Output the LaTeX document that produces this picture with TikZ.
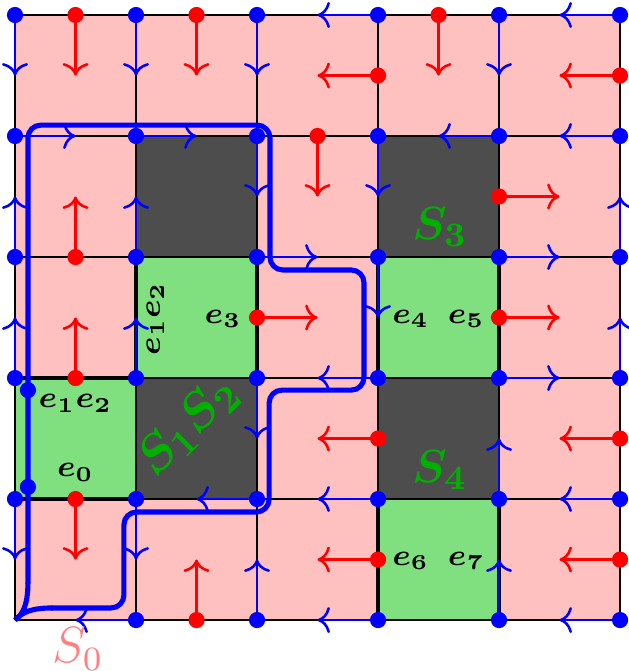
\documentclass[tikz,border=0pt]{standalone}
\usepackage{amsmath,amssymb,bm}
\usetikzlibrary{arrows.meta,calc}
\definecolor{cellpink}{HTML}{FFC0C0}
\definecolor{cellgreen}{HTML}{80E080}
\definecolor{cellgrey}{HTML}{4D4D4D}
\definecolor{labgreen}{HTML}{00B000}
\definecolor{labpink}{HTML}{FF8080}
\tikzset{
  pinkcell/.style={fill=cellpink},
  greencell/.style={fill=cellgreen},
  darkcell/.style={fill=cellgrey},
  gridline/.style={draw=black, line width=0.3pt},
  cut/.style={draw=black, line width=0.9pt},
  bdot/.style={circle, fill=blue, inner sep=0pt, minimum size=3.8pt},
  rdot/.style={circle, fill=red, inner sep=0pt, minimum size=3.8pt},
  barrow/.style={->, draw=blue, line width=0.6pt},
  rarrow/.style={->, draw=red, line width=0.6pt},
  cycle loop/.style={draw=blue, line width=1.2pt, rounded corners=3pt},
  elab/.style={font=\fontsize{6.6}{8}\selectfont, inner sep=0pt},
  slab/.style={font=\fontsize{10.8}{13}\selectfont, text=labgreen, inner sep=0pt},
}

\begin{document}
\begin{tikzpicture}
\useasboundingbox (-0.124,-0.421) rectangle (5.066,5.124);
% cells
\fill[pinkcell] (0,0) rectangle (5,5);
\foreach \x/\y in {1/3,3/3,1/1,3/1}
  \fill[darkcell] (\x,\y) rectangle ++(1,1);
\foreach \x/\y in {0/1,1/2,3/2,3/0}
  \fill[greencell] (\x,\y) rectangle ++(1,1);
\draw[gridline] (0,0) grid (5,5);
% cut edges
\draw[cut] (0,2) -- (1,2);
\draw[cut] (0,1) -- (1,1);
\draw[cut] (1,2) -- (1,3);
\draw[cut] (2,2) -- (2,3);
\draw[cut] (3,2) -- (3,3);
\draw[cut] (4,2) -- (4,3);
\draw[cut] (3,0) -- (3,1);
\draw[cut] (4,0) -- (4,1);
% the loop S0
\draw[cycle loop] (0.107,0.3) -- (0.107,4.09) -- (2.107,4.09) -- (2.107,2.893)
  -- (2.884,2.893) -- (2.884,1.9) -- (2.1,1.9) -- (2.1,0.893) -- (0.9,0.893)
  -- (0.9,0.1) -- (0.3,0.1);
\draw[draw=blue, line width=1.2pt] (0.107,0.31) .. controls (0.107,0.12) and (0.06,0.04) .. (0,0)
  .. controls (0.06,0.07) and (0.15,0.1) .. (0.31,0.1);
% blue arrows from vertices
\foreach \x/\y/\dx/\dy in {0/5/0/-1,1/5/0/-1,2/5/0/-1,3/5/-1/0,4/5/0/-1,5/5/-1/0,
    0/4/1/0,1/4/1/0,2/4/0/-1,3/4/0/-1,4/4/-1/0,5/4/-1/0,
    0/3/0/1,1/3/0/1,2/3/1/0,3/3/0/-1,4/3/1/0,5/3/0/1,
    0/2/0/1,1/2/0/1,2/2/0/-1,3/2/-1/0,4/2/1/0,5/2/0/1,
    0/1/0/-1,1/1/0/-1,2/1/-1/0,3/1/-1/0,4/1/0/1,5/1/-1/0,
    1/0/-1/0,2/0/0/1,3/0/-1/0,4/0/0/1,5/0/-1/0}
  \draw[barrow] (\x,\y) -- ++({0.5*\dx},{0.5*\dy});
% red arrows from edge midpoints
\foreach \x/\y/\dx/\dy in {0.5/5/0/-1,1.5/5/0/-1,3.5/5/0/-1,3/4.5/-1/0,5/4.5/-1/0,
    2.5/4/0/-1,4/3.5/1/0,0.5/3/0/1,2/2.5/1/0,4/2.5/1/0,0.5/2/0/1,
    3/1.5/-1/0,5/1.5/-1/0,0.5/1/0/-1,3/0.5/-1/0,5/0.5/-1/0,1.5/0/0/1}
  \draw[rarrow] (\x,\y) -- ++({0.5*\dx},{0.5*\dy});
% dots
\foreach \x/\y [count=\i] in {0/5,1/5,2/5,3/5,4/5,5/5,0/4,1/4,2/4,3/4,4/4,5/4,
    0/3,1/3,2/3,3/3,4/3,5/3,0/2,1/2,2/2,3/2,4/2,5/2,
    0/1,1/1,2/1,3/1,4/1,5/1,1/0,2/0,3/0,4/0,5/0}
  \node[bdot] (v\i) at (\x,\y) {};
\foreach \x/\y [count=\i] in {0.5/5,1.5/5,3.5/5,3/4.5,5/4.5,2.5/4,4/3.5,0.5/3,
    2/2.5,4/2.5,0.5/2,3/1.5,5/1.5,0.5/1,3/0.5,5/0.5,1.5/0}
  \node[rdot] (m\i) at (\x,\y) {};
\node[bdot] (p1) at (0.107,1.9) {};
\node[bdot] (p2) at (0.107,1.1) {};
% labels
\node[elab] (e12a) at (0.5,1.79) {$\boldsymbol{e_1e_2}$};
\node[elab] (e0) at (0.5,1.22) {$\boldsymbol{e_0}$};
\node[elab, rotate=90] (e12b) at (1.16,2.49) {$\boldsymbol{e_1e_2}$};
\node[elab] (e3) at (1.72,2.49) {$\boldsymbol{e_3}$};
\node[elab] (e4) at (3.27,2.49) {$\boldsymbol{e_4}$};
\node[elab] (e5) at (3.73,2.49) {$\boldsymbol{e_5}$};
\node[elab] (e6) at (3.27,0.49) {$\boldsymbol{e_6}$};
\node[elab] (e7) at (3.73,0.49) {$\boldsymbol{e_7}$};
\node[slab] (s3) at (3.51,3.25) {$\boldsymbol{S_3}$};
\node[slab] (s4) at (3.51,1.24) {$\boldsymbol{S_4}$};
\node[slab, font=\fontsize{12.5}{15}\selectfont, rotate=45] (s12) at (1.43,1.6) {$\boldsymbol{S_1S_2}$};
\node[font=\large, text=labpink, inner sep=0pt] (s0) at (0.52,-0.24) {$S_0$};
\end{tikzpicture}
\end{document}
